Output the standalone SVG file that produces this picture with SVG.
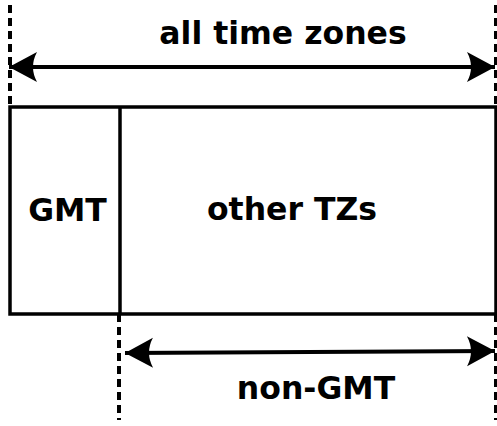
<svg xmlns="http://www.w3.org/2000/svg" width="497" height="426" viewBox="0 0 497 426">
<style>
.t{font-family:"DejaVu Sans",sans-serif;font-weight:bold;font-size:31.5px;fill:#000;text-anchor:middle}
.s{stroke:#000;stroke-width:3.5;fill:none}
.a{stroke:#000;stroke-width:4;fill:none}
.d{stroke:#000;stroke-width:4;fill:none;stroke-dasharray:8 5}
</style>
<defs>
<marker id="ah" markerUnits="userSpaceOnUse" markerWidth="40" markerHeight="40" viewBox="-30 -20 40 40" refX="0" refY="0" orient="auto-start-reverse">
<path d="M0,0 L-28,-15 Q-20,0 -28,15 Z" fill="#000"/>
</marker>
</defs>
<g id="guides">
<line class="d" x1="10" y1="5" x2="10" y2="107"/>
<line class="d" x1="496" y1="5" x2="496" y2="107"/>
<line class="d" x1="119" y1="314" x2="119" y2="420"/>
<line class="d" x1="496" y1="314" x2="496" y2="420"/>
</g>
<g id="box">
<rect class="s" x="10" y="107" width="486" height="207"/>
</g>
<g id="gmt">
<line class="s" x1="120" y1="107" x2="120" y2="314"/>
<text class="t" x="67.5" y="221">GMT</text>
</g>
<g id="other">
<text class="t" x="292" y="220">other TZs</text>
</g>
<g id="connectors">
<line class="a" x1="9" y1="67" x2="495" y2="67" marker-start="url(#ah)" marker-end="url(#ah)"/>
<line class="a" x1="125" y1="353" x2="495" y2="351" marker-start="url(#ah)" marker-end="url(#ah)"/>
</g>
<g id="labels">
<text class="t" x="283" y="44">all time zones</text>
<text class="t" x="316" y="399">non-GMT</text>
</g>
</svg>
